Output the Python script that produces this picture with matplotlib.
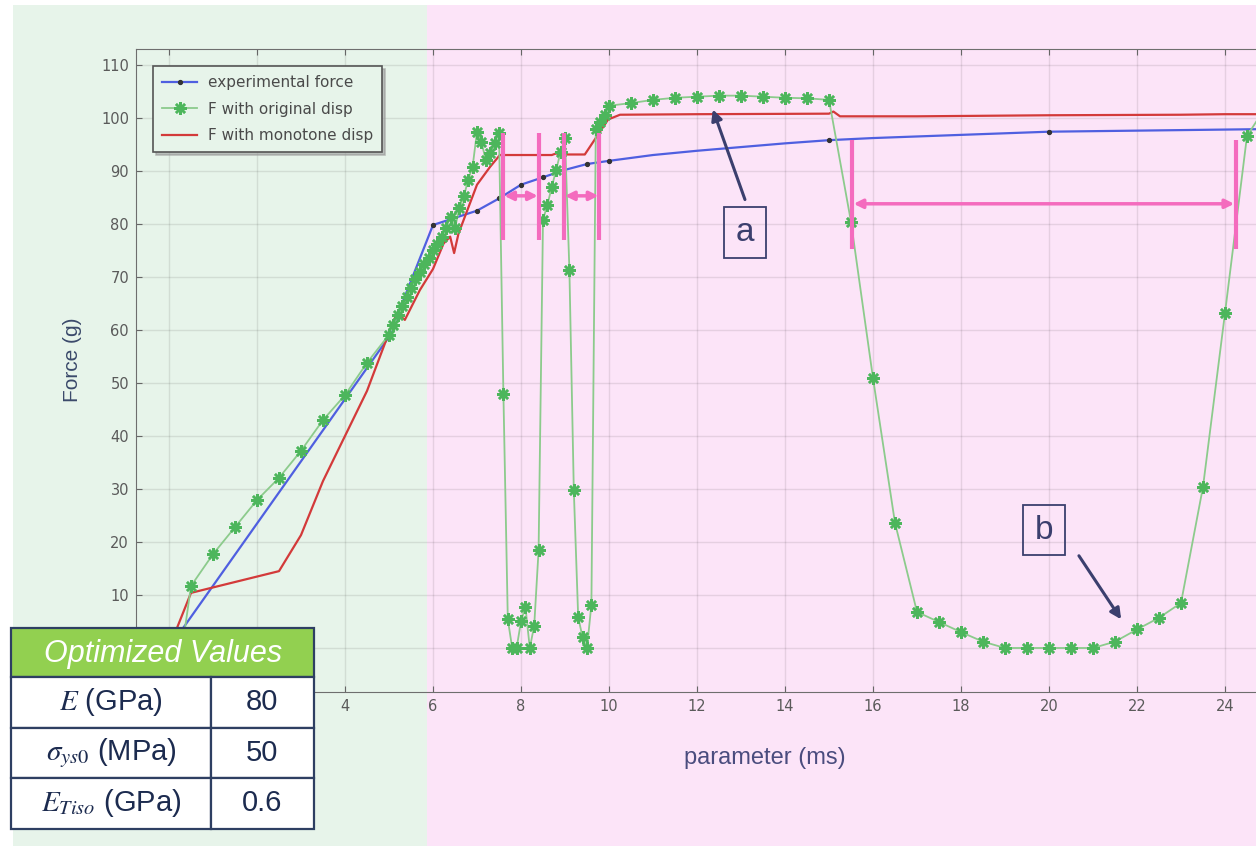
import matplotlib
matplotlib.use('Agg')
import matplotlib.pyplot as plt
from matplotlib.patches import Rectangle

plt.rcParams['font.family'] = ['DejaVu Sans']
plt.rcParams['mathtext.fontset'] = 'stix'

W, H = 1256, 846

# experimental force (blue), black dots on the sampled points
exp_x = [0, 5, 6, 7, 7.5, 8, 8.5, 9, 9.5, 10, 11, 12, 13, 14, 15, 16, 17, 18,
         19, 20, 21, 22, 23, 24, 25]
exp_y = [0, 58.7, 79.8, 82.5, 84.8, 87.4, 88.8, 90.2, 91.3, 91.9, 93.0, 93.8,
         94.5, 95.2, 95.8, 96.2, 96.5, 96.8, 97.1, 97.4, 97.5, 97.6, 97.7, 97.8, 97.9]
exp_dots = [1, 2, 3, 4, 5, 6, 8, 9, 14, 19]

# F with original disp (green stars)
orig_x = [0.3, 0.5, 1.0, 1.5, 2.0, 2.5, 3.0, 3.5, 4.0, 4.5,
          5.0, 5.1, 5.2, 5.3, 5.4, 5.5, 5.6, 5.7, 5.8, 5.9,
          6.0, 6.1, 6.2, 6.3, 6.4, 6.5, 6.6, 6.7, 6.8, 6.9,
          7.0, 7.1, 7.2, 7.3, 7.4, 7.5, 7.6, 7.7, 7.8, 7.9,
          8.0, 8.1, 8.2, 8.3, 8.4, 8.5, 8.6, 8.7, 8.8, 8.9,
          9.0, 9.1, 9.2, 9.3, 9.4, 9.5, 9.6, 9.7, 9.8, 9.9,
          10.0, 10.5, 11.0, 11.5, 12.0, 12.5, 13.0, 13.5, 14.0, 14.5,
          15.0, 15.5, 16.0, 16.5, 17.0, 17.5, 18.0, 18.5, 19.0, 19.5,
          20.0, 20.5, 21.0, 21.5, 22.0, 22.5, 23.0, 23.5, 24.0, 24.5, 25.0]
orig_y = [0, 11.7, 17.7, 22.8, 27.9, 32.1, 37.2, 43.0, 47.7, 53.8,
          59.1, 61.0, 62.8, 64.5, 66.2, 68.0, 69.6, 71.0, 72.4, 73.6,
          75.0, 76.3, 77.6, 79.3, 81.4, 79.2, 83.0, 85.2, 88.3, 90.8,
          97.4, 95.5, 92.0, 93.3, 95.2, 97.1, 48.0, 5.4, 0, 0,
          5.0, 7.8, 0, 4.2, 18.5, 80.8, 83.6, 87.0, 90.2, 93.6,
          96.2, 71.3, 29.8, 5.8, 2.0, 0, 8.2, 98.0, 99.3, 100.6,
          102.3, 102.8, 103.4, 103.8, 104.0, 104.2, 104.2, 104.0, 103.8, 103.7,
          103.4, 80.4, 50.9, 23.6, 6.8, 4.9, 3.0, 1.2, 0, 0,
          0, 0, 0, 1.2, 3.5, 5.7, 8.5, 30.4, 63.2, 96.6, 103.0]

# F with monotone disp (red)
mono_x = [0, 0.5, 2.5, 3.0, 3.5, 4.0, 4.5, 5.0, 5.18, 5.36, 5.7, 6.0, 6.24,
          6.39, 6.48, 6.58, 7.0, 7.3, 7.52, 8.7, 8.8, 8.9, 9.45, 9.98, 10.25,
          12.0, 15.0, 15.1, 15.25, 17.0, 20.0, 23.0, 24.0, 25.0]
mono_y = [0, 10.4, 14.5, 21.3, 31.5, 40.0, 48.5, 59.5, 63.2, 61.9, 67.5, 71.5,
          76.3, 77.6, 74.5, 78.2, 87.4, 90.8, 93.0, 93.0, 93.3, 93.1, 93.1,
          99.7, 100.6, 100.7, 100.8, 101.2, 100.3, 100.3, 100.5, 100.6, 100.7, 100.7]

# optimized values table
table_title = 'Optimized Values'
param_names = [r'$E$ (GPa)', r'$\sigma_{ys0}$ (MPa)', r'$E_{Tiso}$ (GPa)']
param_values = ['80', '50', '0.6']

# tick labels (the ones under the table are left blank)
x_ticks = list(range(0, 26, 2))
x_ticklabels = ['', ''] + [str(v) for v in range(4, 26, 2)]
y_ticks = list(range(0, 111, 10))
y_ticklabels = [''] + [str(v) for v in range(10, 111, 10)]

pink = '#F46BBE'
navy = '#3B3F6E'
tnavy = '#1C2B4F'

fig = plt.figure(figsize=(W / 100, H / 100), dpi=100)
fig.patch.set_facecolor('white')


def frect(x0, y0, x1, y1, **kw):
    r = Rectangle((x0 / W, 1 - y1 / H), (x1 - x0) / W, (y1 - y0) / H,
                  transform=fig.transFigure, **kw)
    fig.add_artist(r)
    return r


# coloured background panels
frect(13, 5, 427, H + 2, fc='#E7F4EA', ec='none', zorder=-2)
frect(427, 5, W + 2, H + 2, fc='#FCE4F8', ec='none', zorder=-2)

ax = fig.add_axes([136 / W, 1 - 692 / H, (1291 - 136) / W, (692 - 49) / H])
ax.set_facecolor('none')
ax.set_xlim(-0.75, 25.5)
ax.set_ylim(-8.3, 113.0)

ax.plot(exp_x, exp_y, color='#4F5FE0', lw=1.6, marker='o', ms=2.8,
        mfc='#333333', mec='#333333', markevery=exp_dots,
        label='experimental force', zorder=3)
ax.plot(orig_x, orig_y, color='#8CCB8C', lw=1.3, marker=(8, 2, 0), ms=9, mew=1.8,
        mfc='#4DB65C', mec='#4DB65C', label='F with original disp', zorder=4)
ax.plot(mono_x, mono_y, color='#D33A3A', lw=1.6,
        label='F with monotone disp', zorder=3)

ax.set_xticks(x_ticks, x_ticklabels)
ax.set_yticks(y_ticks, y_ticklabels)
ax.tick_params(direction='in', top=True, right=False, length=4,
               labelsize=10.5, labelcolor='#5A5A5A', color='#666666', pad=5)
ax.grid(True, color='black', alpha=0.09, lw=1)
for side in ['left', 'top', 'bottom']:
    ax.spines[side].set_color('#6E6E6E')
ax.spines['right'].set_visible(False)

leg = ax.legend(loc='upper left', bbox_to_anchor=((153 - 136) / 1155, 1 - (66 - 49) / 643),
                borderaxespad=0, fontsize=11, labelcolor='#4A4A4A', fancybox=False,
                framealpha=1, facecolor='#E7F4EA', edgecolor='#555555',
                handlelength=2.3, handletextpad=0.7, labelspacing=0.75,
                borderpad=0.6, shadow={'color': '#9A9A9A', 'alpha': 0.6})
leg.get_frame().set_linewidth(1.2)

# pink interval markers
for xb in [7.6, 8.4, 8.98, 9.78]:
    ax.plot([xb, xb], [77.0, 97.1], color=pink, lw=3, solid_capstyle='butt', zorder=5)
for xb in [15.52, 24.25]:
    ax.plot([xb, xb], [75.3, 95.8], color=pink, lw=3, solid_capstyle='butt', zorder=5)
arrow_kw = dict(arrowstyle='<|-|>', color=pink, lw=2.5, mutation_scale=13,
                shrinkA=0, shrinkB=0)
ax.annotate('', xy=(7.62, 85.3), xytext=(8.38, 85.3), arrowprops=arrow_kw, zorder=5)
ax.annotate('', xy=(9.0, 85.3), xytext=(9.76, 85.3), arrowprops=arrow_kw, zorder=5)
ax.annotate('', xy=(15.56, 83.8), xytext=(24.21, 83.8), arrowprops=arrow_kw, zorder=5)

# labelled boxes a and b with arrows
for (x0, x1, y0, y1, lab) in [(12.61, 13.57, 73.6, 83.2, 'a'),
                              (19.41, 20.36, 17.5, 27.0, 'b')]:
    ax.add_patch(Rectangle((x0, y0), x1 - x0, y1 - y0, fc='none', ec=navy,
                           lw=1.3, zorder=6))
    ax.text((x0 + x1) / 2, (y0 + y1) / 2, lab, ha='center', va='center',
            fontsize=24, color=navy, family='Liberation Sans', zorder=6)
dark_arrow = dict(arrowstyle='-|>', color=navy, lw=2.2, mutation_scale=16,
                  shrinkA=0, shrinkB=0)
ax.annotate('', xy=(12.36, 101.6), xytext=(13.09, 84.6), arrowprops=dark_arrow, zorder=6)
ax.annotate('', xy=(21.64, 5.4), xytext=(20.68, 17.4), arrowprops=dark_arrow, zorder=6)

# axis labels
fig.text(72 / W, 1 - 360 / H, 'Force (g)', rotation=90, ha='center', va='center',
         fontsize=15, color='#3B4A6B', family='Liberation Sans')
fig.text(765 / W, 1 - 758 / H, 'parameter (ms)', ha='center', va='center',
         fontsize=17, color='#4A4C7E', family='Liberation Sans')

# optimized values table
frect(11, 628, 314, 677, fc='#92D050', ec='#2E3F62', lw=1.6, zorder=10)
fig.text(163 / W, 1 - 654 / H, table_title, ha='center', va='center', fontsize=22,
         style='italic', color='white', family='Liberation Sans', zorder=11)
row_edges = [677, 727.5, 778, 828.5]
for i in range(3):
    y0, y1 = row_edges[i], row_edges[i + 1]
    frect(11, y0, 211, y1, fc='white', ec='#2E3F62', lw=1.6, zorder=10)
    frect(211, y0, 314, y1, fc='white', ec='#2E3F62', lw=1.6, zorder=10)
    fig.text(111 / W, 1 - (y0 + y1) / 2 / H, param_names[i], ha='center', va='center',
             fontsize=21, color=tnavy, family='Liberation Sans', zorder=11)
    fig.text(262 / W, 1 - (y0 + y1) / 2 / H, param_values[i], ha='center', va='center',
             fontsize=21, color=tnavy, family='Liberation Sans', zorder=11)

fig.savefig('out.png', dpi=100)
